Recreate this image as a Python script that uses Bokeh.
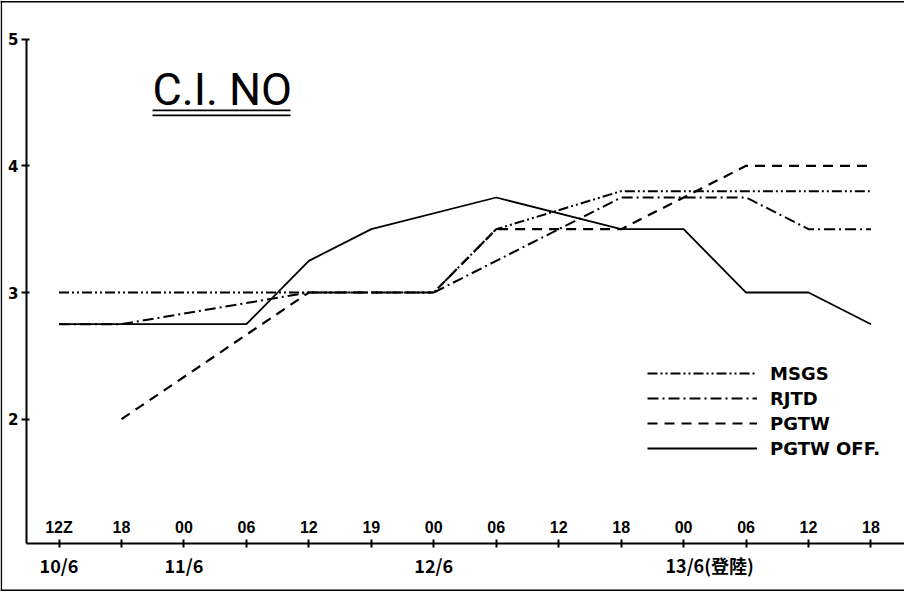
from bokeh.plotting import figure
from bokeh.models import (LinearAxis, FixedTicker, Range1d, Legend, LegendItem,
                          Span, Label, BoxAnnotation, Grid)
from bokeh.embed import file_html
from bokeh.resources import INLINE

# x = hours after 10/6 12Z
hour_ticks = [0, 6, 12, 18, 24, 30, 36, 42, 48, 54, 60, 66, 72, 78]
hour_labels = ["12Z", "18", "00", "06", "12", "19", "00", "06", "12", "18", "00", "06", "12", "18"]
date_pos = [0, 12, 36, 62.5]
date_labels = ["10/6", "11/6", "12/6", "13/6(登陸)"]
ci_ticks = [2, 3, 4, 5]

msgs_t = [0, 36, 42, 54, 78]
msgs_v = [3.0, 3.0, 3.5, 3.8, 3.8]
rjtd_t = [0, 6, 24, 36, 54, 66, 72, 78]
rjtd_v = [2.75, 2.75, 3.0, 3.0, 3.75, 3.75, 3.5, 3.5]
pgtw_t = [6, 24, 36, 42, 54, 66, 78]
pgtw_v = [2.0, 3.0, 3.0, 3.5, 3.5, 4.0, 4.0]
off_t = [0, 18, 24, 30, 42, 54, 60, 66, 72, 78]
off_v = [2.75, 2.75, 3.25, 3.5, 3.75, 3.5, 3.5, 3.0, 3.0, 2.75]

X0, X1 = -5.62, 81.22
Y0, Y1 = 0.64, 5.305
XAX_Y = 1.02
YAX_X = -3.12

p = figure(width=904, height=591, x_range=Range1d(X0, X1), y_range=Range1d(Y0, Y1),
           output_backend="svg", toolbar_location=None,
           x_axis_location=None, y_axis_location=None, title=None,
           min_border=0, outline_line_color=None,
           background_fill_color="white", border_fill_color="white")
for r in list(p.center):
    if isinstance(r, Grid):
        r.visible = False

yax = LinearAxis(fixed_location=YAX_X, bounds=(XAX_Y, 5),
                 ticker=FixedTicker(ticks=ci_ticks),
                 axis_line_width=2, major_tick_in=3, major_tick_out=5,
                 major_tick_line_width=2, minor_tick_line_color=None,
                 major_label_text_font="DejaVu Sans", major_label_text_color="black",
                 major_label_text_font_size="15px", major_label_text_font_style="bold",
                 major_label_standoff=3)
p.add_layout(yax, "left")

xax = LinearAxis(fixed_location=XAX_Y, bounds=(YAX_X, X1),
                 ticker=FixedTicker(ticks=hour_ticks),
                 major_label_overrides=dict(zip(hour_ticks, hour_labels)),
                 axis_line_width=2, major_tick_in=4, major_tick_out=4,
                 major_tick_line_width=2, minor_tick_line_color=None,
                 major_label_text_font="Liberation Sans", major_label_text_color="black",
                 major_label_text_font_size="16px", major_label_text_font_style="bold",
                 major_label_standoff=3)
p.add_layout(xax, "above")

dax = LinearAxis(fixed_location=XAX_Y,
                 ticker=FixedTicker(ticks=date_pos),
                 major_label_overrides=dict(zip(date_pos, date_labels)),
                 axis_line_color=None, major_tick_line_color=None,
                 minor_tick_line_color=None,
                 major_label_text_font="Noto Sans CJK TC", major_label_text_color="black",
                 major_label_text_font_size="18px", major_label_text_font_style="bold",
                 major_label_standoff=3)
p.add_layout(dax, "below")

r_msgs = p.line(msgs_t, msgs_v, line_color="black", line_width=2, line_dash="10 3 2 3 2 3")
r_rjtd = p.line(rjtd_t, rjtd_v, line_color="black", line_width=2, line_dash="11 4 2 4")
r_pgtw = p.line(pgtw_t, pgtw_v, line_color="black", line_width=2.2, line_dash="10 7")
r_off = p.line(off_t, off_v, line_color="black", line_width=1.8)

legend = Legend(items=[LegendItem(label="MSGS", renderers=[r_msgs]),
                       LegendItem(label="RJTD", renderers=[r_rjtd]),
                       LegendItem(label="PGTW", renderers=[r_pgtw]),
                       LegendItem(label="PGTW OFF.", renderers=[r_off])],
                location=(647, 131), glyph_width=110, glyph_height=24,
                label_height=24, spacing=1, padding=0, margin=0, label_standoff=13,
                background_fill_alpha=0, border_line_color=None,
                label_text_font="DejaVu Sans", label_text_color="black",
                label_text_font_size="18px", label_text_font_style="bold")
p.add_layout(legend)

# title with double underline
title_t, title_v = 8.98, 4.60
p.add_layout(Label(x=title_t, y=title_v, text="C.I. NO", text_font="Roboto",
                   text_font_size="45px", text_baseline="middle",
                   text_color="black"))
p.add_layout(BoxAnnotation(left=title_t, right=22.24, top=4.444, bottom=4.430,
                           fill_color="black", fill_alpha=1, line_color=None))
p.add_layout(BoxAnnotation(left=title_t, right=22.24, top=4.405, bottom=4.391,
                           fill_color="black", fill_alpha=1, line_color=None))

# outer border of the sheet
for loc, dim in [(X0 + 0.08, "height"), (Y1 - 0.01, "width"), (Y0 + 0.01, "width")]:
    p.add_layout(Span(location=loc, dimension=dim, line_color="black", line_width=1.5))

open("out.html", "w").write(file_html(p, INLINE))
